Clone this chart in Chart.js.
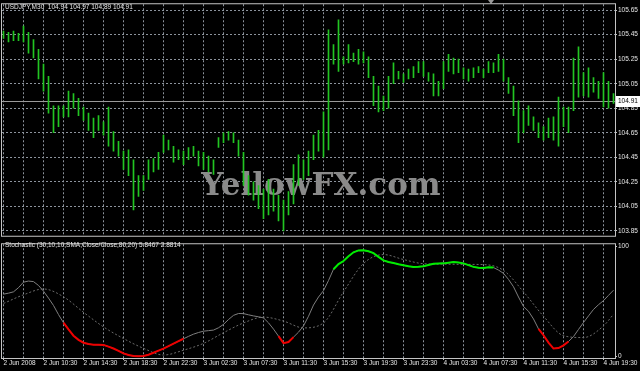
<!DOCTYPE html>
<html>
<head>
<meta charset="utf-8">
<script src="https://cdn.jsdelivr.net/npm/chart.js@4.4.0/dist/chart.umd.min.js"></script>
<style>
  html, body { margin: 0; padding: 0; background: #000; }
  body { width: 640px; height: 371px; position: relative; overflow: hidden; font-family: "Liberation Sans", Arial, sans-serif; }
  canvas { position: absolute; left: 0; }
  #price { top: 0; }
  #stoch { top: 240px; }
  .cap { position: absolute; color: #e6e6e6; font-size: 6.5px; white-space: pre; line-height: 8px; }
</style>
</head>
<body>
<canvas id="price" width="640" height="240"></canvas>
<canvas id="stoch" width="640" height="131"></canvas>
<div class="cap" style="left:5px;top:3px">USDJPY,M30  104.94 104.97 104.89 104.91</div>
<div class="cap" style="left:5px;top:241px">Stochastic (30,10,10,SMA,Close/Close,80,20) 5.8467 2.8814</div>

<script>
// --- datos (USDJPY M30, una barra por indice) ---
const barHigh = [
  105.48,105.47,105.48,105.46,105.52,105.47,105.41,105.33,105.21,105.11,
  104.87,104.87,104.87,104.99,104.97,104.93,104.86,104.81,104.77,104.79,
  104.74,104.86,104.66,104.58,104.50,104.51,104.43,104.30,104.30,104.43,
  104.44,104.49,104.63,104.59,104.54,104.51,104.50,104.53,104.54,104.50,
  104.49,104.46,104.43,104.61,104.65,104.66,104.65,104.59,104.49,104.30,
  104.25,104.22,104.19,104.27,104.19,104.14,104.10,104.17,104.39,104.47,
  104.43,104.50,104.63,104.67,104.82,105.49,105.37,105.57,105.27,105.37,
  105.30,105.33,105.31,105.27,105.11,105.03,104.95,105.11,105.22,105.15,
  105.13,105.17,105.19,105.23,105.23,105.14,105.13,105.07,105.23,105.29,
  105.26,105.25,105.18,105.17,105.18,105.19,105.17,105.23,105.22,105.29,
  105.25,105.10,105.03,104.91,104.83,104.87,104.78,104.73,104.70,104.77,
  104.78,104.94,104.86,104.86,105.26,105.35,105.14,105.18,105.10,105.07,
  105.14,105.07,104.97
];
const barLow = [
  105.42,105.39,105.40,105.40,105.39,105.30,105.26,105.09,104.99,104.81,
  104.65,104.70,104.78,104.78,104.85,104.79,104.75,104.67,104.61,104.67,
  104.63,104.54,104.50,104.46,104.35,104.30,104.02,104.13,104.18,104.27,
  104.33,104.35,104.49,104.51,104.41,104.43,104.39,104.43,104.46,104.38,
  104.35,104.33,104.31,104.53,104.57,104.59,104.57,104.46,104.22,104.14,
  104.10,104.03,103.95,103.98,104.01,103.93,103.85,103.98,104.07,104.22,
  104.27,104.30,104.43,104.50,104.45,104.51,105.21,105.15,105.21,105.22,
  105.23,105.21,105.22,105.10,104.87,104.82,104.83,104.85,105.05,105.09,
  105.06,105.09,105.10,105.14,105.11,105.07,104.95,104.95,105.01,105.15,
  105.13,105.14,105.09,105.07,105.10,105.14,105.10,105.14,105.14,105.15,
  105.07,104.97,104.79,104.57,104.65,104.71,104.67,104.61,104.59,104.61,
  104.59,104.54,104.70,104.65,104.83,104.94,104.95,104.94,104.98,104.93,
  104.86,104.85,104.89
];
const bidPrice = 104.91;

// Estocastico: linea principal (por barra) y senal (cada 4 barras)
const stochMain = [
  56.6,57.5,58.7,62.5,67.5,68.5,68.0,64.5,59.3,53.0,
  46.3,38.0,30.6,24.5,18.8,15.0,12.4,11.2,10.6,10.5,
  10.4,8.8,7.1,5.0,2.7,1.2,0.3,0.2,0.3,1.5,
  3.3,5.2,7.1,9.3,11.5,13.8,16.0,18.2,20.2,21.7,
  22.9,23.4,23.9,26.0,29.1,33.5,37.3,39.0,38.9,37.8,
  36.8,36.0,35.0,30.5,24.8,18.4,12.0,13.0,17.5,22.0,
  27.7,36.5,46.7,54.0,59.8,69.0,79.3,84.0,86.7,91.0,
  94.7,96.4,96.5,95.6,93.9,90.5,87.3,85.8,84.9,83.8,
  82.9,82.0,81.4,81.5,82.0,83.2,84.3,84.5,84.6,85.2,
  85.8,85.4,84.6,83.0,81.4,80.6,80.4,81.0,80.8,78.5,
  75.5,70.0,63.3,54.0,45.4,41.0,34.0,25.0,19.2,12.5,
  7.1,7.5,10.0,13.5,18.0,24.5,30.8,36.8,42.7,47.0,
  50.7,55.5,60.2
];
const signalBars = [0,4,8,12,16,20,24,28,32,36,40,44,48,52,56,60,64,68,72,76,80,84,88,92,96,100,104,108,112,116,120,122];
const stochSignal = [48.1,56.0,61.3,54.2,40.1,26.8,16.2,7.3,1.2,5.6,11.8,21.5,30.4,35.7,32.1,25.9,30.4,58.7,84.5,92.6,88.1,84.3,83.9,83.7,83.5,78.2,58.7,36.5,18.8,17.1,27.7,38.3];
// tramos coloreados de la linea principal (indices de barra)
const redRanges = [[12, 36], [55, 58], [107, 113]];
const greenRanges = [[66, 98]];

// Ejes
const priceTicks = [103.85, 104.05, 104.25, 104.45, 104.65, 104.85, 105.05, 105.25, 105.45, 105.65];
const stochTicks = [0, 100];
const gridBars = [0,4,8,12,16,20,24,28,32,36,40,44,48,52,56,60,64,68,72,76,80,84,88,92,96,100,104,108,112,116,120];
const timeLabels = ["2 Jun 2008","2 Jun 10:30","2 Jun 14:30","2 Jun 18:30","2 Jun 22:30","3 Jun 02:30","3 Jun 07:30","3 Jun 11:30","3 Jun 15:30","3 Jun 19:30","3 Jun 23:30","4 Jun 03:30","4 Jun 07:30","4 Jun 11:30","4 Jun 15:30","4 Jun 19:30"];

const BAR_GREEN = "#22c522";
const GRID = "#8c939c";
const TEXT = "#e6e6e6";
const FRAME = "#c4c4c4";
const FONT = { family: "'Liberation Sans', Arial, sans-serif", size: 6.5, lineHeight: 1 };

// Marco de cada panel
const frame = {
  id: "frame",
  afterDraw(chart) {
    const { ctx, chartArea: a } = chart;
    ctx.save();
    ctx.strokeStyle = FRAME;
    ctx.lineWidth = 1;
    ctx.strokeRect(a.left - 0.5, a.top - 0.5, a.right - a.left + 1, a.bottom - a.top + 1);
    ctx.restore();
  }
};

// Marca de agua y linea Bid
const precioExtras = {
  id: "precioExtras",
  beforeDatasetsDraw(chart) {
    const { ctx, chartArea: a, scales } = chart;
    ctx.save();
    ctx.font = "bold 31px 'DejaVu Serif', serif";
    ctx.fillStyle = "#8a8a8a";
    ctx.textAlign = "center";
    ctx.fillText("YellowFX.com", 321, 195);
    const y = Math.round(scales.y.getPixelForValue(bidPrice)) + 0.5;
    ctx.strokeStyle = "#9a9a9a";
    ctx.lineWidth = 1;
    ctx.beginPath();
    ctx.moveTo(a.left, y);
    ctx.lineTo(a.right, y);
    ctx.stroke();
    ctx.restore();
  },
  afterDraw(chart) {
    const { ctx, chartArea: a, scales } = chart;
    const y = Math.round(scales.y.getPixelForValue(bidPrice));
    ctx.save();
    ctx.fillStyle = "#ffffff";
    ctx.fillRect(a.right + 1, y - 5, 24, 11);
    ctx.fillStyle = "#000";
    ctx.font = "6.5px 'Liberation Sans', Arial, sans-serif";
    ctx.textBaseline = "middle";
    ctx.fillText(bidPrice.toFixed(2), a.right + 3, y + 0.5);
    // triangulo de desplazamiento del grafico
    ctx.fillStyle = "#9a9a9a";
    ctx.beginPath();
    ctx.moveTo(488, 0);
    ctx.lineTo(494, 0);
    ctx.lineTo(491, 4);
    ctx.closePath();
    ctx.fill();
    ctx.restore();
  }
};

new Chart(document.getElementById("price"), {
  type: "bar",
  data: {
    datasets: [{
      data: barHigh.map((h, i) => ({ x: i, y: [barLow[i], h] })),
      backgroundColor: BAR_GREEN,
      borderWidth: 0,
      barThickness: 1,
      grouped: false
    }]
  },
  options: {
    responsive: false,
    animation: false,
    layout: { padding: { left: 2, top: 2, right: 0, bottom: 2 } },
    plugins: { legend: { display: false }, tooltip: { enabled: false } },
    scales: {
      x: {
        type: "linear",
        min: -0.3,
        max: 122.3,
        offset: false,
        afterBuildTicks: s => { s.ticks = gridBars.map(v => ({ value: v })); },
        afterFit: s => { s.height = 0; },
        ticks: { display: false },
        grid: { color: GRID, drawTicks: false, offset: false },
        border: { display: false, dash: [2, 2] }
      },
      y: {
        position: "right",
        min: 103.81,
        max: 105.698,
        beginAtZero: false,
        afterBuildTicks: s => { s.ticks = priceTicks.map(v => ({ value: v })); },
        afterFit: s => { s.width = 25; },
        ticks: { color: TEXT, font: FONT, padding: 1, callback: v => Number(v).toFixed(2) },
        grid: { color: GRID, drawTicks: true, tickLength: 2, tickColor: FRAME, tickBorderDash: [] },
        border: { display: false, dash: [2, 2] }
      }
    }
  },
  plugins: [precioExtras, frame]
});

// tramos de color de la linea principal, separados por huecos
function tramos(ranges) {
  const pts = [];
  ranges.forEach(([a, b]) => {
    for (let i = a; i <= b; i++) pts.push({ x: i, y: stochMain[i] });
    pts.push({ x: b + 0.5, y: null });
  });
  return pts;
}

new Chart(document.getElementById("stoch"), {
  type: "line",
  data: {
    datasets: [
      { data: tramos(redRanges), borderColor: "#ee0000", borderWidth: 2, pointRadius: 0, spanGaps: false },
      { data: tramos(greenRanges), borderColor: "#00ee00", borderWidth: 2, pointRadius: 0, spanGaps: false },
      { data: stochMain.map((v, i) => ({ x: i, y: v })), borderColor: "#7e7e7e", borderWidth: 1, pointRadius: 0 },
      {
        data: signalBars.map((b, i) => ({ x: b, y: stochSignal[i] })),
        borderColor: "#6a6a6a", borderWidth: 1, borderDash: [2, 2], pointRadius: 0,
        cubicInterpolationMode: "monotone"
      }
    ]
  },
  options: {
    responsive: false,
    animation: false,
    layout: { padding: { left: 2, top: 1, right: 0, bottom: 0 } },
    plugins: { legend: { display: false }, tooltip: { enabled: false } },
    scales: {
      x: {
        type: "linear",
        min: -0.3,
        max: 122.3,
        afterBuildTicks: s => { s.ticks = gridBars.map(v => ({ value: v })); },
        afterFit: s => { s.height = 13; },
        ticks: {
          color: TEXT, font: FONT, padding: 0, align: "start",
          autoSkip: false, maxRotation: 0, minRotation: 0,
          callback: v => (v % 8 === 0 ? timeLabels[v / 8] : "")
        },
        grid: {
          color: GRID, drawTicks: true, tickLength: 2, tickBorderDash: [],
          tickColor: c => (c.tick && c.tick.value % 8 === 0 ? FRAME : "rgba(0,0,0,0)")
        },
        border: { display: false, dash: [2, 2] }
      },
      y: {
        position: "right",
        min: -1.5,
        max: 102,
        afterBuildTicks: s => { s.ticks = stochTicks.map(v => ({ value: v })); },
        afterFit: s => { s.width = 25; },
        ticks: { color: TEXT, font: FONT, padding: 1 },
        grid: { drawOnChartArea: false, drawTicks: true, tickLength: 2, tickColor: FRAME },
        border: { display: false }
      }
    }
  },
  plugins: [frame]
});
</script>
</body>
</html>
